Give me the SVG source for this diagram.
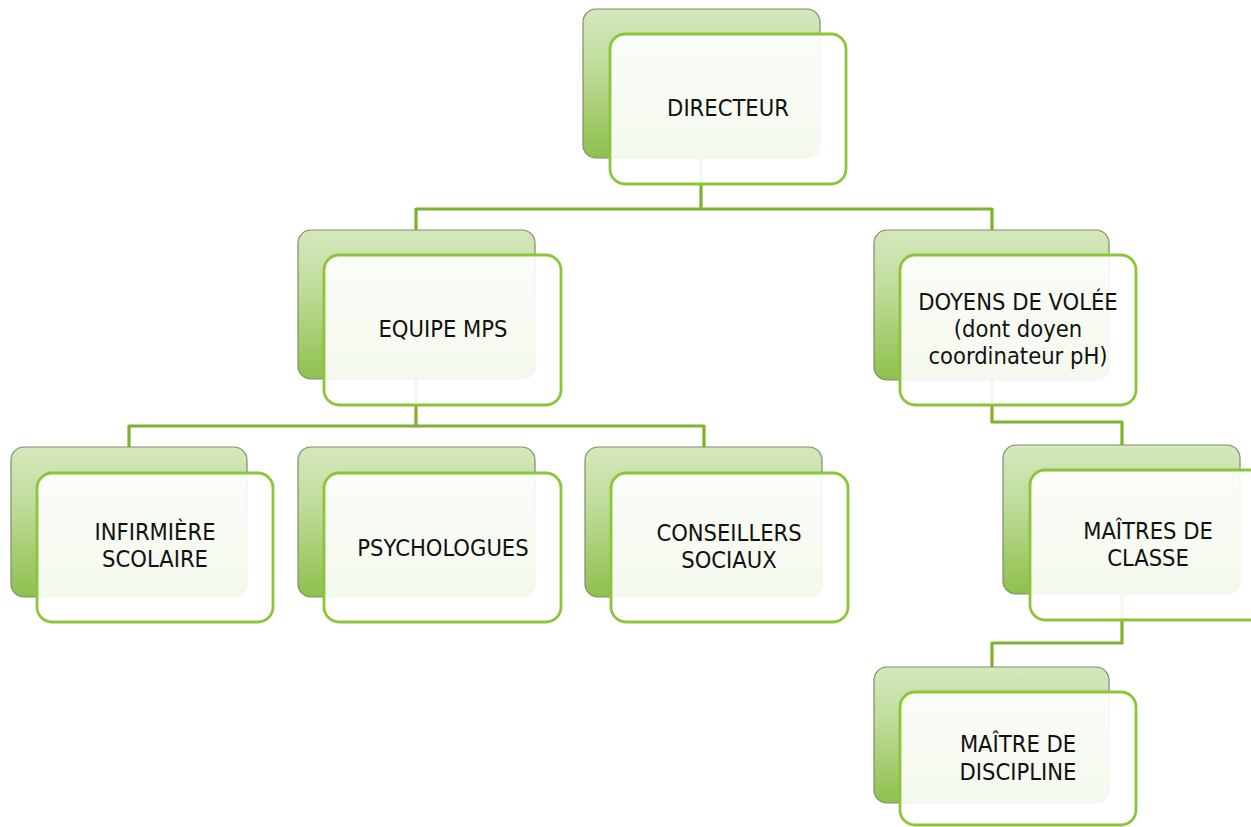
<svg xmlns="http://www.w3.org/2000/svg" width="1251" height="827" viewBox="0 0 1251 827">
<defs>
<linearGradient id="g" x1="0" y1="0" x2="0" y2="1">
<stop offset="0" stop-color="#d5e8be"/>
<stop offset="0.35" stop-color="#c2de9f"/>
<stop offset="1" stop-color="#8fc04c"/>
</linearGradient>
<style>
.back{fill:url(#g);stroke:#7f8d6c;stroke-width:1.2}
.front{fill:#ffffff;fill-opacity:0.9;stroke:#8cc43a;stroke-width:2.8}
.conn{fill:none;stroke:#7db22c;stroke-width:3.2;stroke-linejoin:round}
text{font-family:"DejaVu Sans Condensed","DejaVu Sans",sans-serif;font-stretch:condensed;font-size:23.5px;fill:#111;text-anchor:middle}
</style>
</defs>
<rect width="1251" height="827" fill="#ffffff"/>
<g id="connectors">
<path class="conn" d="M701,158 V209 M416,230 V209 H992 V230"/>
<path class="conn" d="M416,379 V426 M129,447 V426 H704 V447"/>
<path class="conn" d="M992,380 V422 H1122 V445"/>
<path class="conn" d="M1122,594 V643 H992 V667"/>
</g>
<g id="directeur">
<rect class="back" x="583" y="9" width="237" height="149" rx="13"/>
<rect class="front" x="610" y="34" width="236" height="150" rx="15"/>
<text x="728" y="116">DIRECTEUR</text>
</g>
<g id="equipe">
<rect class="back" x="298" y="230" width="237" height="149" rx="13"/>
<rect class="front" x="324" y="255" width="237" height="150" rx="15"/>
<text x="443" y="337">EQUIPE MPS</text>
</g>
<g id="doyens">
<rect class="back" x="874" y="230" width="235" height="150" rx="13"/>
<rect class="front" x="900" y="255" width="236" height="150" rx="15"/>
<text x="1018" y="310">DOYENS DE VOLÉE</text>
<text x="1018" y="337">(dont doyen</text>
<text x="1018" y="364">coordinateur pH)</text>
</g>
<g id="infirmiere">
<rect class="back" x="11" y="447" width="236" height="150" rx="13"/>
<rect class="front" x="37" y="473" width="236" height="149" rx="15"/>
<text x="155" y="540">INFIRMIÈRE</text>
<text x="155" y="567">SCOLAIRE</text>
</g>
<g id="psychologues">
<rect class="back" x="298" y="447" width="237" height="150" rx="13"/>
<rect class="front" x="324" y="473" width="237" height="149" rx="15"/>
<text x="443" y="556">PSYCHOLOGUES</text>
</g>
<g id="conseillers">
<rect class="back" x="585" y="447" width="237" height="150" rx="13"/>
<rect class="front" x="611" y="473" width="237" height="149" rx="15"/>
<text x="729" y="541">CONSEILLERS</text>
<text x="729" y="568">SOCIAUX</text>
</g>
<g id="maitres">
<rect class="back" x="1003" y="445" width="237" height="149" rx="13"/>
<rect class="front" x="1030" y="470" width="237" height="150" rx="15"/>
<text x="1148" y="539">MAÎTRES DE</text>
<text x="1148" y="566">CLASSE</text>
</g>
<g id="discipline">
<rect class="back" x="874" y="667" width="235" height="136" rx="13"/>
<rect class="front" x="900" y="692" width="236" height="133" rx="15"/>
<text x="1018" y="752">MAÎTRE DE</text>
<text x="1018" y="780">DISCIPLINE</text>
</g>
</svg>
